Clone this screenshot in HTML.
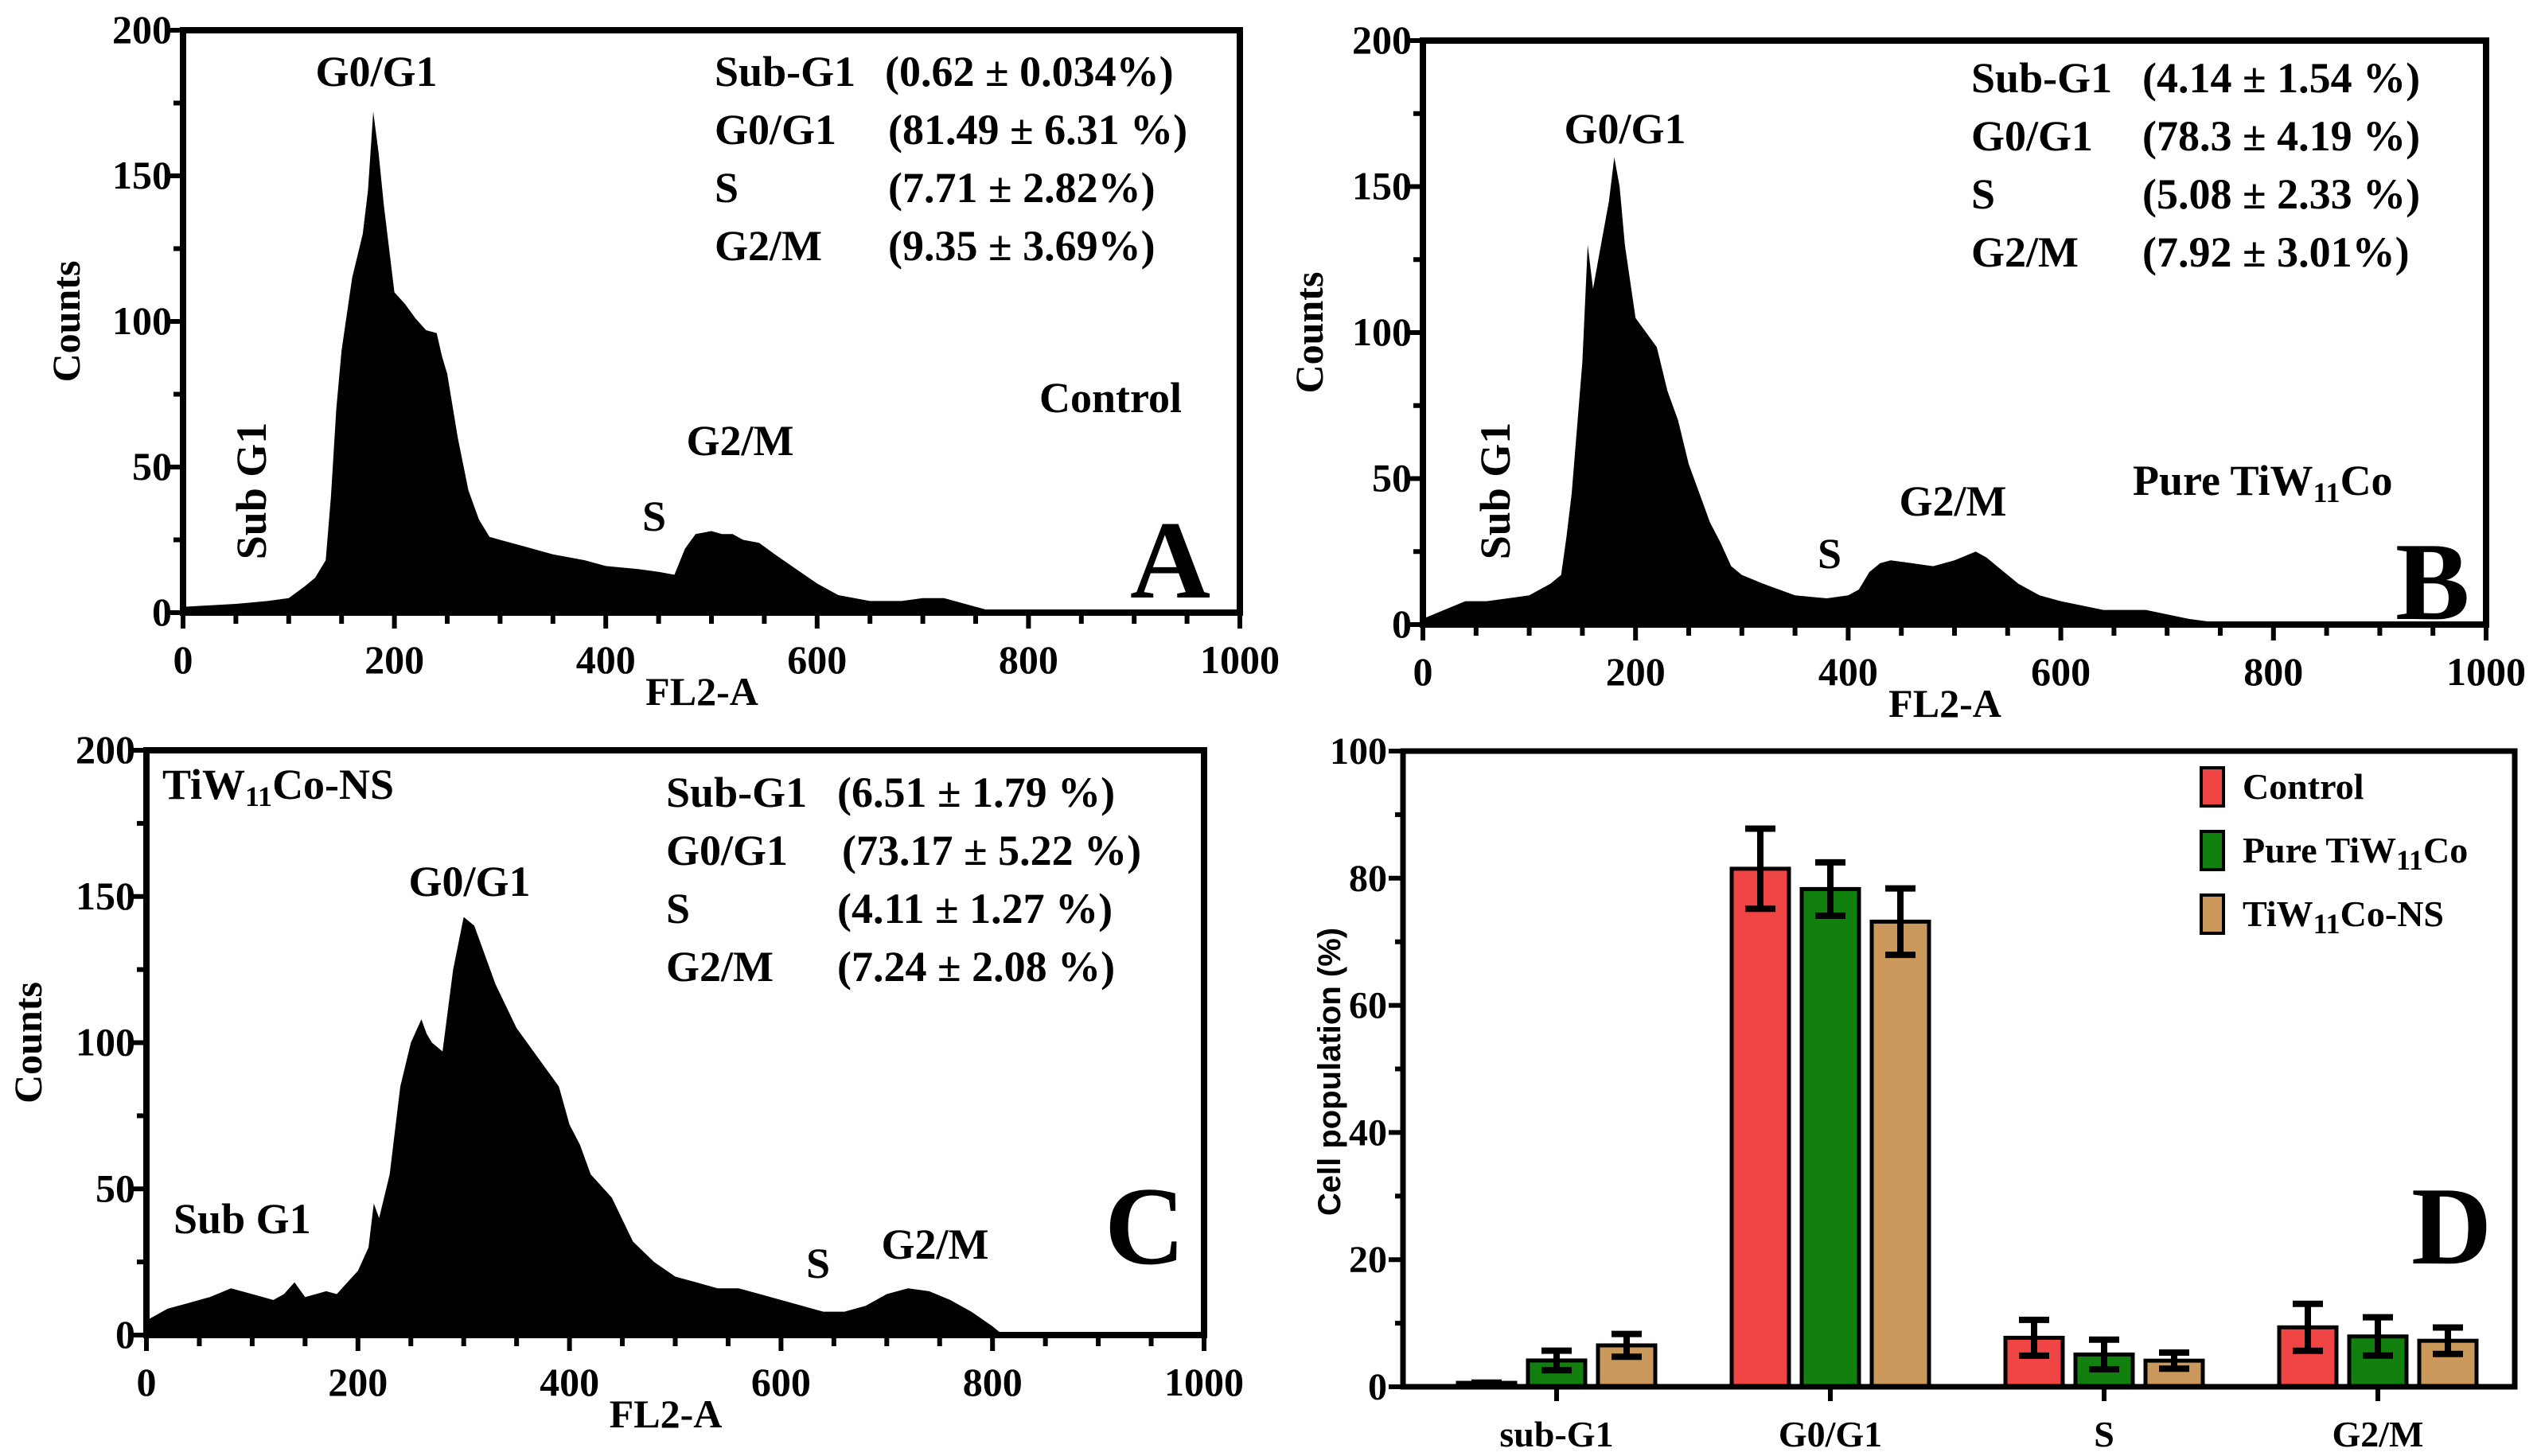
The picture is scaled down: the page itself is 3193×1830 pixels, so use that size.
<!DOCTYPE html>
<html><head><meta charset="utf-8"><style>
html,body{margin:0;padding:0;background:#fff;}
svg{display:block;}
text{font-family:"Liberation Serif",serif;font-weight:bold;fill:#000;}
</style></head><body>
<svg id="fig" width="3193" height="1830" viewBox="0 0 3193 1830" xmlns="http://www.w3.org/2000/svg">
<g id="pA"></g>
<g id="pB"></g>
<g id="pC"></g>
<g id="pD"></g>
</svg>
<script>
// Histogram data (FL2-A channel, counts)
const aX=[0,50,80,100,115,125,135,140,145,150,160,170,175,180,185,190,200,210,220,230,240,245,250,260,270,280,290,300,320,350,380,400,430,450,465,475,485,500,510,520,530,545,560,580,600,620,650,680,700,720,740,760,780,1000];
const aY=[2,3,4,5,9,12,18,40,70,90,115,130,145,172,158,140,110,106,101,97,96,88,82,60,42,32,26,25,23,20,18,16,15,14,13,22,27,28,27,27,25,24,20,15,10,6,4,4,5,5,3,1,0,0];
const bX=[0,20,40,60,80,100,120,130,135,140,150,155,160,165,170,175,180,185,190,200,210,220,230,240,250,260,270,280,290,300,320,350,380,400,410,420,430,440,460,480,500,520,530,540,560,580,600,640,680,720,760,1000];
const bY=[2,5,8,8,9,10,14,17,30,45,90,130,115,125,135,145,160,150,130,105,100,95,80,70,55,45,35,28,20,17,14,10,9,10,12,18,21,22,21,20,22,25,23,20,14,10,8,5,5,2,0,0];
const cX=[0,20,40,60,80,100,120,130,140,150,170,180,190,200,210,215,220,230,240,250,260,265,270,280,290,300,310,330,350,370,390,400,410,420,440,460,480,500,520,540,560,580,600,620,640,660,680,700,720,740,760,780,800,810,1000];
const cY=[5,9,11,13,16,14,12,14,18,13,15,14,18,22,30,45,40,55,85,100,108,103,100,97,125,143,140,120,105,95,85,72,65,55,47,32,25,20,18,16,16,14,12,10,8,8,10,14,16,15,12,8,3,0,0];
// Panel D data
const categories=["sub-G1","G0/G1","S","G2/M"];
const seriesNames=["Control","Pure TiW11Co","TiW11Co-NS"];
const controlVals=[0.62,81.49,7.71,9.35];
const controlErr=[0.034,6.31,2.82,3.69];
const pureVals=[4.14,78.3,5.08,7.92];
const pureErr=[1.54,4.19,2.33,3.01];
const nsVals=[6.51,73.17,4.11,7.24];
const nsErr=[1.79,5.22,1.27,2.08];
const xTicks=[0,200,400,600,800,1000];
const yTicksHist=[0,50,100,150,200];
const yTicksBar=[0,20,40,60,80,100];

const NS="http://www.w3.org/2000/svg";
const FS=54;
function mk(tag,attrs,parent){const e=document.createElementNS(NS,tag);for(const k in attrs)e.setAttribute(k,attrs[k]);parent.appendChild(e);return e;}

function hist(g,L,R,T,B,xs,ys,cfg){
  const sx=v=>L+(v/1000)*(R-L), sy=v=>B-(v/200)*(B-T);
  let d="M"+sx(xs[0])+","+B;
  for(let i=0;i<xs.length;i++){d+=" L"+sx(xs[i]).toFixed(1)+","+sy(ys[i]).toFixed(1);}
  d+=" L"+sx(xs[xs.length-1])+","+B+" Z";
  const p=mk("path",{d:d,fill:"#000"},g);
  
  
  const fr=mk("rect",{x:L,y:T,width:R-L,height:B-T,fill:"none",stroke:"#000","stroke-width":8},g);
  
  
  for(let v=0;v<=1000;v+=50){
    const t=mk("line",{x1:sx(v),x2:sx(v),y1:B,y2:B+(v%200===0?20:14),stroke:"#000","stroke-width":6},g);
    
    
  }
  for(let v=0;v<=200;v+=25){
    const t=mk("line",{x1:L,x2:L-(v%50===0?20:12),y1:sy(v),y2:sy(v),stroke:"#000","stroke-width":6},g);
    
    
  }
  xTicks.forEach(v=>{const t=mk("text",{x:sx(v),y:B+76,"font-size":50,"text-anchor":"middle"},g);t.textContent=v;
    
    });
  yTicksHist.forEach(v=>{const t=mk("text",{x:L-14,y:sy(v)+16,"font-size":50,"text-anchor":"end"},g);t.textContent=v;
    
    });
  const xt=mk("text",{x:(L+R)/2-12,y:B+116,"font-size":50,"text-anchor":"middle"},g);xt.textContent="FL2-A";
  
  
  const yt=mk("text",{x:0,y:0,"font-size":50,"text-anchor":"middle",transform:`translate(${cfg.yl},${(T+B)/2}) rotate(-90)`},g);yt.textContent="Counts";
  
  
}
function txt(g,x,y,s,size,name,anchor,rot){
  const a={x:x,y:y,"font-size":size,"text-anchor":anchor||"start"};
  if(rot){a.x=0;a.y=0;a.transform=`translate(${x},${y}) rotate(-90)`;}
  const t=mk("text",a,g);t.innerHTML=s;
  
  
  return t;
}
const sub='<tspan baseline-shift="-25%" font-size="36">11</tspan>';
// Panel A
const gA=document.getElementById('pA');
hist(gA,230,1558,38,770,aX,aY,{yl:100});
txt(gA,473,108,"G0/G1",FS,"peak-label-g0g1","middle");
[["Sub-G1","(0.62 ± 0.034%)"],["G0/G1","(81.49 ± 6.31 %)"],["S","(7.71 ± 2.82%)"],["G2/M","(9.35 ± 3.69%)"]].forEach((r,i)=>{
  txt(gA,898,108+i*73,r[0],FS,"stat-label");txt(gA,i==0?1112:1116,108+i*73,r[1],FS,"stat-value");});
txt(gA,1306,518,"Control",FS,"sample-label");
txt(gA,930,572,"G2/M",FS,"peak-label-g2m","middle");
txt(gA,822,667,"S",FS,"peak-label-s","middle");
txt(gA,334,617,"Sub G1",FS,"peak-label-subg1","middle",true);
txt(gA,1420,751,"A",140,"panel-letter-a");
// Panel B
const gB=document.getElementById('pB');
hist(gB,1788,3124,51,785,bX,bY,{yl:1662});
txt(gB,2042,180,"G0/G1",FS,"peak-label-g0g1","middle");
[["Sub-G1","(4.14 ± 1.54 %)"],["G0/G1","(78.3 ± 4.19 %)"],["S","(5.08 ± 2.33 %)"],["G2/M","(7.92 ± 3.01%)"]].forEach((r,i)=>{
  txt(gB,2477,116+i*73,r[0],FS,"stat-label");txt(gB,2692,116+i*73,r[1],FS,"stat-value");});
txt(gB,2680,622,"Pure TiW"+sub+"Co",FS,"sample-label");
txt(gB,2454,648,"G2/M",FS,"peak-label-g2m","middle");
txt(gB,2299,714,"S",FS,"peak-label-s","middle");
txt(gB,1897,617,"Sub G1",FS,"peak-label-subg1","middle",true);
txt(gB,3010,778,"B",140,"panel-letter-b");
// Panel C
const gC=document.getElementById('pC');
hist(gC,184,1513,943,1678,cX,cY,{yl:52});
txt(gC,204,1004,"TiW"+sub+"Co-NS",FS,"sample-label");
txt(gC,590,1126,"G0/G1",FS,"peak-label-g0g1","middle");
[["Sub-G1","(6.51 ± 1.79 %)"],["G0/G1","(73.17 ± 5.22 %)"],["S","(4.11 ± 1.27  %)"],["G2/M","(7.24 ± 2.08 %)"]].forEach((r,i)=>{
  txt(gC,837,1014+i*73,r[0],FS,"stat-label");txt(gC,i==1?1058:1052,1014+i*73,r[1],FS,"stat-value");});
txt(gC,218,1550,"Sub G1",FS,"peak-label-subg1");
txt(gC,1028,1606,"S",FS,"peak-label-s","middle");
txt(gC,1175,1582,"G2/M",FS,"peak-label-g2m","middle");
txt(gC,1388,1588,"C",140,"panel-letter-c");
// Panel D
const gD=document.getElementById('pD');
(function(){
  const L=1763,R=3160,T=944,B=1743;
  const sy=v=>B-(v/100)*(B-T);
  const cx=i=>1956+i*344;
  const off=[-88,0,88], bw=72;
  const colors=["#f04545","#12800f","#c9985a"];
  const vals=[controlVals,pureVals,nsVals], errs=[controlErr,pureErr,nsErr];
  for(let s=0;s<3;s++){for(let i=0;i<categories.length;i++){
    const x=cx(i)+off[s], v=vals[s][i], e=errs[s][i];
    const r=mk("rect",{x:x-bw/2,y:sy(v),width:bw,height:B-sy(v),fill:colors[s],stroke:"#000","stroke-width":5},gD);
    
    
    const eg=mk("path",{d:`M${x},${sy(v-e)} V${sy(v+e)} M${x-19},${sy(v+e)} H${x+19} M${x-19},${sy(v-e)} H${x+19}`,stroke:"#000","stroke-width":8,fill:"none"},gD);
    
    
  }}
  const fr=mk("rect",{x:L,y:T,width:R-L,height:B-T,fill:"none",stroke:"#000","stroke-width":7},gD);
  
  
  for(let v=0;v<=100;v+=10){
    const t=mk("line",{x1:L,x2:L-(v%20===0?18:10),y1:sy(v),y2:sy(v),stroke:"#000","stroke-width":6},gD);
    
    
  }
  yTicksBar.forEach(v=>{const t=mk("text",{x:L-20,y:sy(v)+16,"font-size":48,"text-anchor":"end"},gD);t.textContent=v;
    
    });
  categories.forEach((c,i)=>{
    const t=mk("line",{x1:cx(i),x2:cx(i),y1:B,y2:B+18,stroke:"#000","stroke-width":6},gD);
    
    
    const l=mk("text",{x:cx(i),y:1818,"font-size":46,"text-anchor":"middle"},gD);l.textContent=c;
    
    
  });
  const yt=mk("text",{x:0,y:0,"font-size":40,"text-anchor":"middle",style:'font-family:"Liberation Sans",sans-serif',transform:`translate(1684,1347) rotate(-90)`},gD);
  yt.textContent="Cell population (%)";
  
  
  const labels=["Control","Pure TiW"+sub+"Co","TiW"+sub+"Co-NS"];
  labels.forEach((lb,i)=>{
    const y=989+i*80;
    const sq=mk("rect",{x:2766,y:y-24,width:28,height:48,fill:colors[i],stroke:"#000","stroke-width":4},gD);
    
    
    const t=mk("text",{x:2818,y:y+15,"font-size":46},gD);t.innerHTML=lb;
    
    
  });
  txt(gD,3030,1588,"D",140,"panel-letter-d");
})();
</script>
</body></html>
